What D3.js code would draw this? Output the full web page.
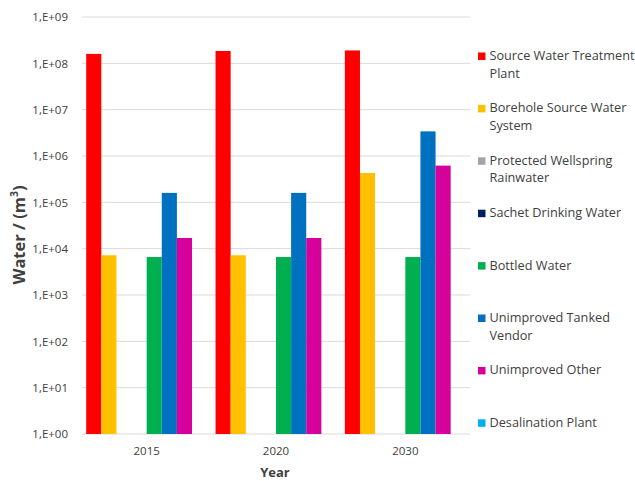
<!DOCTYPE html>
<html>
<head>
<meta charset="utf-8">
<script src="https://cdn.jsdelivr.net/npm/d3@7/dist/d3.min.js"></script>
<style>
  html, body { margin: 0; padding: 0; background: #fff; }
  svg { display: block; }
  text { font-family: "Open Sans", "Liberation Sans", sans-serif; fill: #404040; }
</style>
</head>
<body>
<svg id="chart" width="635" height="481"></svg>
<script>
// Water demand by supply source, log scale
const years = ["2015", "2020", "2030"];
const seriesNames = [
  "Source Water Treatment Plant",
  "Borehole Source Water System",
  "Protected Wellspring Rainwater",
  "Sachet Drinking Water",
  "Bottled Water",
  "Unimproved Tanked Vendor",
  "Unimproved Other",
  "Desalination Plant"
];
const legendLines = [
  ["Source Water Treatment", "Plant"],
  ["Borehole Source Water", "System"],
  ["Protected Wellspring", "Rainwater"],
  ["Sachet Drinking Water"],
  ["Bottled Water"],
  ["Unimproved Tanked", "Vendor"],
  ["Unimproved Other"],
  ["Desalination Plant"]
];
const seriesColors = ["#FF0000", "#FFC000", "#A5A5A5", "#002060", "#00B050", "#0070C0", "#D6009A", "#00B0F0"];

const sourceWaterTreatment = [1.6e8, 1.85e8, 1.9e8];
const boreholeSource       = [7.2e3, 7.2e3, 4.3e5];
const protectedWellspring  = [null, null, null];
const sachetDrinking       = [null, null, null];
const bottledWater         = [6.6e3, 6.6e3, 6.6e3];
const tankedVendor         = [1.6e5, 1.6e5, 3.4e6];
const unimprovedOther      = [1.7e4, 1.7e4, 6.2e5];
const desalination         = [null, null, null];
const seriesValues = [sourceWaterTreatment, boreholeSource, protectedWellspring, sachetDrinking,
                      bottledWater, tankedVendor, unimprovedOther, desalination];

const yTicks = [1e0, 1e1, 1e2, 1e3, 1e4, 1e5, 1e6, 1e7, 1e8, 1e9];
const yTickLabels = ["1,E+00", "1,E+01", "1,E+02", "1,E+03", "1,E+04", "1,E+05", "1,E+06", "1,E+07", "1,E+08", "1,E+09"];

const svg = d3.select("#chart");
const plot = { left: 82, right: 470, top: 17, bottom: 434 };

const y = d3.scaleLog().domain([1, 1e9]).range([plot.bottom, plot.top]);
const x0 = d3.scaleBand().domain(years).range([plot.left, plot.right]).padding(0);
const gap = 4.2;
const x1 = d3.scaleBand().domain(seriesNames).range([gap, x0.bandwidth() - gap]).padding(0);

// gridlines
svg.append("g")
  .selectAll("line")
  .data(yTicks)
  .join("line")
  .attr("x1", plot.left).attr("x2", plot.right)
  .attr("y1", d => y(d)).attr("y2", d => y(d))
  .attr("stroke", "#D9D9D9").attr("stroke-width", 1);

// y axis labels
const yAxis = d3.axisLeft(y).tickValues(yTicks).tickSize(0).tickPadding(14)
  .tickFormat((d, i) => yTickLabels[i]);
const gy = svg.append("g").attr("transform", `translate(${plot.left},0)`).call(yAxis);
gy.select(".domain").remove();
gy.selectAll("text").attr("font-size", 11.5).style("font-family", "Open Sans, sans-serif").attr("fill", "#404040");

// bars
const groups = svg.append("g").selectAll("g")
  .data(years)
  .join("g")
  .attr("transform", d => `translate(${x0(d)},0)`);

groups.selectAll("rect")
  .data((yr, i) => seriesNames.map((s, k) => ({ s, v: seriesValues[k][i], c: seriesColors[k] })).filter(d => d.v != null))
  .join("rect")
  .attr("x", d => x1(d.s))
  .attr("width", x1.bandwidth())
  .attr("y", d => y(d.v))
  .attr("height", d => plot.bottom - y(d.v))
  .attr("fill", d => d.c);

// x axis labels
const xAxis = d3.axisBottom(x0).tickSize(0).tickPadding(13);
const gx = svg.append("g").attr("transform", `translate(0,${plot.bottom})`).call(xAxis);
gx.select(".domain").remove();
gx.selectAll("text").attr("font-size", 11.5).style("font-family", "Open Sans, sans-serif").attr("fill", "#404040");

// axis titles
svg.append("text")
  .attr("x", (plot.left + plot.right) / 2 - 1).attr("y", 477)
  .attr("text-anchor", "middle")
  .attr("font-size", 13).attr("font-weight", "bold").attr("fill", "#262626")
  .text("Year");

const yt = svg.append("text")
  .attr("transform", "translate(25,235) rotate(-90)")
  .attr("text-anchor", "middle")
  .attr("font-size", 16.5).attr("font-weight", "bold").attr("fill", "#262626");
yt.append("tspan").text("Water / (m");
yt.append("tspan").attr("font-size", 10.5).attr("dy", -7).text("3");
yt.append("tspan").attr("dy", 7).text(")");

// legend
const legendTop = 60, legendStep = 52.4;
const lg = svg.append("g").selectAll("g")
  .data(seriesNames)
  .join("g")
  .attr("transform", (d, i) => `translate(478,${legendTop + i * legendStep})`);
lg.append("rect")
  .attr("x", 0).attr("y", -7.5).attr("width", 7.5).attr("height", 7.5)
  .attr("fill", (d, i) => seriesColors[i]);
lg.append("text")
  .attr("x", 11.5).attr("y", 0)
  .attr("font-size", 12.7)
  .selectAll("tspan")
  .data((d, i) => legendLines[i])
  .join("tspan")
  .attr("x", 11.5)
  .attr("dy", (d, j) => j === 0 ? 0 : 17.5)
  .text(d => d);
</script>
</body>
</html>
